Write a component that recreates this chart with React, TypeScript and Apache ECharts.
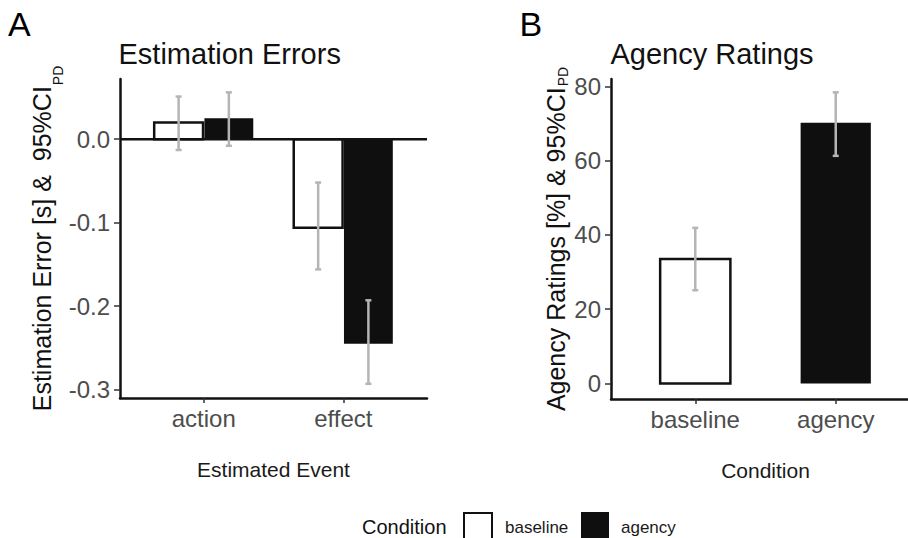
import React, { useEffect, useRef } from "react";
import * as echarts from "echarts";

// ---------- Data ----------
const categoriesA = ["action", "effect"];
const errBaseline = [0.02, -0.106];
const errBaselineLo = [-0.013, -0.156];
const errBaselineHi = [0.051, -0.052];
const errAgency = [0.025, -0.245];
const errAgencyLo = [-0.008, -0.293];
const errAgencyHi = [0.056, -0.193];
const ticksA = [-0.3, -0.2, -0.1, 0.0];

const categoriesB = ["baseline", "agency"];
const ratings = [33.5, 70.2];
const ratingsLo = [25.1, 61.3];
const ratingsHi = [41.9, 78.4];
const ticksB = [0, 20, 40, 60, 80];

const legendTitle = "Condition";
const legendNames = ["baseline", "agency"];

// ---------- Styling constants ----------
const FONT = '"Liberation Sans", Arial, Helvetica, sans-serif';
const X_RANGE = [0.4, 2.6];
const BLACK = "#0f0f0f";
const CI_COLOR = "#b5b5b5";

function barRender(offset: number, width: number, fill: string, stroke: string | null) {
  return (params: any, api: any) => {
    const x = api.value(0) + offset;
    const v = api.value(1);
    const p0 = api.coord([x - width / 2, v]);
    const p1 = api.coord([x + width / 2, 0]);
    return {
      type: "rect",
      shape: {
        x: p0[0],
        y: Math.min(p0[1], p1[1]),
        width: p1[0] - p0[0],
        height: Math.abs(p1[1] - p0[1]),
      },
      style: stroke ? { fill, stroke, lineWidth: 2.5 } : { fill },
    };
  };
}

function ciRender(offset: number) {
  return (params: any, api: any) => {
    const x = api.value(0) + offset;
    const lo = api.value(1);
    const hi = api.value(2);
    const top = api.coord([x, hi]);
    const bot = api.coord([x, lo]);
    const cap = 3;
    const style = { stroke: CI_COLOR, lineWidth: 2.5 };
    return {
      type: "group",
      children: [
        { type: "line", shape: { x1: top[0], y1: top[1], x2: bot[0], y2: bot[1] }, style },
        { type: "line", shape: { x1: top[0] - cap, y1: top[1], x2: top[0] + cap, y2: top[1] }, style },
        { type: "line", shape: { x1: bot[0] - cap, y1: bot[1], x2: bot[0] + cap, y2: bot[1] }, style },
      ],
    };
  };
}

function xAxisCfg(gridIndex: number, cats: string[], name: string) {
  return {
    gridIndex,
    type: "value",
    min: X_RANGE[0],
    max: X_RANGE[1],
    name,
    nameLocation: "middle",
    nameGap: 61,
    nameTextStyle: { fontSize: 21, color: "#1a1a1a", fontFamily: FONT },
    axisLine: { onZero: false, lineStyle: { color: "#111", width: 2.5 } },
    axisTick: { customValues: [1, 2], length: 5, lineStyle: { color: "#333", width: 1.5 } },
    axisLabel: {
      customValues: [1, 2],
      formatter: (v: number) => cats[Math.round(v) - 1] ?? "",
      fontSize: 24,
      color: "#4d4d4d",
      margin: 8,
      fontFamily: FONT,
    },
    splitLine: { show: false },
  };
}

function yAxisCfg(
  gridIndex: number,
  min: number,
  max: number,
  ticks: number[],
  fmt: (v: number) => string,
  name: string,
  nameGap: number,
  subPad: number
) {
  return {
    gridIndex,
    type: "value",
    min,
    max,
    name,
    nameLocation: "middle",
    nameRotate: 90,
    nameGap,
    nameTextStyle: {
      fontFamily: FONT,
      rich: {
        m: { fontSize: 25, color: "#111", fontFamily: FONT, verticalAlign: "top", lineHeight: 25 },
        s: {
          fontSize: 14,
          color: "#111",
          fontFamily: FONT,
          verticalAlign: "top",
          lineHeight: 14,
          padding: [subPad, 0, 0, 1],
        },
      },
    },
    axisLine: { show: true, onZero: false, lineStyle: { color: "#111", width: 2.5 } },
    axisTick: { show: true, customValues: ticks, length: 6, lineStyle: { color: "#333", width: 1.5 } },
    axisLabel: {
      customValues: ticks,
      formatter: fmt,
      fontSize: 24,
      color: "#4d4d4d",
      margin: 10,
      fontFamily: FONT,
    },
    splitLine: { show: false },
  };
}

export default function App() {
  const ref = useRef<HTMLDivElement>(null);

  useEffect(() => {
    if (!ref.current) return;
    const chart = echarts.init(ref.current, undefined, { renderer: "svg" });

    const dataA_base = categoriesA.map((_, i) => [i + 1, errBaseline[i]]);
    const dataA_ag = categoriesA.map((_, i) => [i + 1, errAgency[i]]);
    const ciA_base = categoriesA.map((_, i) => [i + 1, errBaselineLo[i], errBaselineHi[i]]);
    const ciA_ag = categoriesA.map((_, i) => [i + 1, errAgencyLo[i], errAgencyHi[i]]);
    const dataB_base = [[1, ratings[0]]];
    const dataB_ag = [[2, ratings[1]]];
    const ciB = categoriesB.map((_, i) => [i + 1, ratingsLo[i], ratingsHi[i]]);

    const custom = (extra: any) => ({
      type: "custom",
      coordinateSystem: "cartesian2d",
      ...extra,
    });

    const option: any = {
      animation: false,
      textStyle: { fontFamily: FONT },
      grid: [
        { left: 120, top: 79, width: 307, height: 319, outerBoundsMode: "none", containLabel: false },
        { left: 611, top: 79, width: 309, height: 320, outerBoundsMode: "none", containLabel: false },
      ],
      xAxis: [xAxisCfg(0, categoriesA, "Estimated Event"), xAxisCfg(1, categoriesB, "Condition")],
      yAxis: [
        yAxisCfg(0, -0.31, 0.072, ticksA, (v) => v.toFixed(1), "{m|Estimation Error [s] &  95%CI}{s|PD}", 56, 21),
        yAxisCfg(1, -4.2, 82, ticksB, (v) => String(Math.round(v)), "{m|Agency Ratings [%] & 95%CI}{s|PD}", 37, 13),
      ],
      series: [
        custom({
          name: "baseline",
          xAxisIndex: 0,
          yAxisIndex: 0,
          renderItem: barRender(-0.18, 0.35, "#ffffff", "#111"),
          data: dataA_base,
          z: 2,
        }),
        custom({
          name: "agency",
          xAxisIndex: 0,
          yAxisIndex: 0,
          renderItem: barRender(0.18, 0.35, BLACK, null),
          data: dataA_ag,
          z: 2,
        }),
        custom({
          name: "zero",
          xAxisIndex: 0,
          yAxisIndex: 0,
          renderItem: (params: any, api: any) => {
            const a = api.coord([X_RANGE[0], 0]);
            const b = api.coord([X_RANGE[1], 0]);
            return {
              type: "line",
              shape: { x1: a[0], y1: a[1], x2: b[0], y2: b[1] },
              style: { stroke: "#111", lineWidth: 2.5 },
            };
          },
          data: [[1, 0]],
          z: 3,
        }),
        custom({ name: "ciA_base", xAxisIndex: 0, yAxisIndex: 0, renderItem: ciRender(-0.18), data: ciA_base, z: 4 }),
        custom({ name: "ciA_ag", xAxisIndex: 0, yAxisIndex: 0, renderItem: ciRender(0.18), data: ciA_ag, z: 4 }),
        custom({
          name: "baseline",
          xAxisIndex: 1,
          yAxisIndex: 1,
          renderItem: barRender(0, 0.5, "#ffffff", "#111"),
          data: dataB_base,
          z: 2,
        }),
        custom({
          name: "agency",
          xAxisIndex: 1,
          yAxisIndex: 1,
          renderItem: barRender(0, 0.5, BLACK, null),
          data: dataB_ag,
          z: 2,
        }),
        custom({ name: "ciB", xAxisIndex: 1, yAxisIndex: 1, renderItem: ciRender(0), data: ciB, z: 4 }),
      ],
      graphic: [
        { type: "text", x: 8, y: 24, style: { text: "A", fontSize: 34, fontFamily: FONT, fill: "#000", textVerticalAlign: "middle" } },
        { type: "text", x: 519.5, y: 24, style: { text: "B", fontSize: 34, fontFamily: FONT, fill: "#000", textVerticalAlign: "middle" } },
        { type: "text", x: 118.5, y: 54, style: { text: "Estimation Errors", fontSize: 29, fontFamily: FONT, fill: "#111", textVerticalAlign: "middle" } },
        { type: "text", x: 610.5, y: 53.5, style: { text: "Agency Ratings", fontSize: 29, fontFamily: FONT, fill: "#111", textVerticalAlign: "middle" } },
        // legend
        { type: "text", x: 362, y: 527, style: { text: legendTitle, fontSize: 20, fontFamily: FONT, fill: "#111", textVerticalAlign: "middle" } },
        { type: "rect", shape: { x: 464, y: 513, width: 28, height: 28 }, style: { fill: "#fff", stroke: "#111", lineWidth: 2 } },
        { type: "text", x: 505, y: 527, style: { text: legendNames[0], fontSize: 17, fontFamily: FONT, fill: "#1a1a1a", textVerticalAlign: "middle" } },
        { type: "rect", shape: { x: 581, y: 512, width: 28, height: 30 }, style: { fill: BLACK } },
        { type: "text", x: 621, y: 527, style: { text: legendNames[1], fontSize: 17, fontFamily: FONT, fill: "#1a1a1a", textVerticalAlign: "middle" } },
      ],
    };

    chart.setOption(option);
    return () => chart.dispose();
  }, []);

  return (
    <div
      ref={ref}
      style={{ position: "fixed", left: 0, top: 0, width: 908, height: 538, background: "#fff" }}
    />
  );
}
